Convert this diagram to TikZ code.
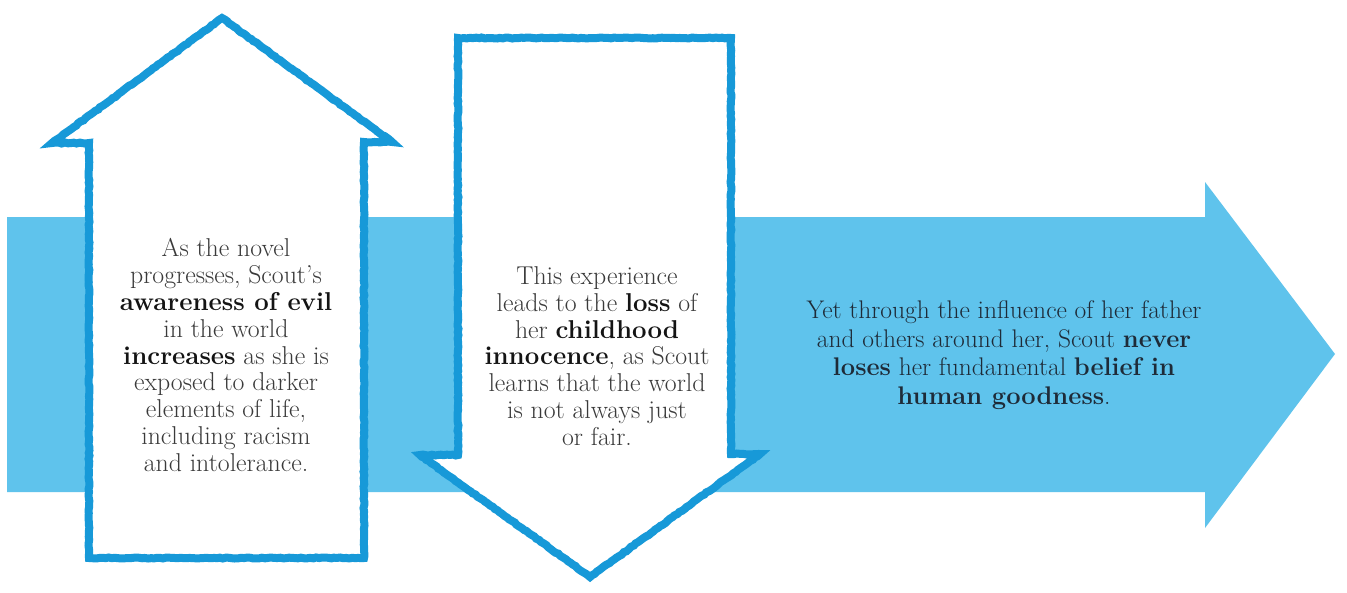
\documentclass[tikz,border=0pt]{standalone}
\usetikzlibrary{decorations.pathmorphing}
\definecolor{bandblue}{HTML}{5FC3EC}
\definecolor{lineblue}{HTML}{1799D8}
\definecolor{txtgray}{HTML}{3A3A3A}
\definecolor{txtdark}{HTML}{141414}
\definecolor{txtnavy}{HTML}{1E2B38}
\tikzset{
  band/.style={fill=bandblue, draw=none},
  sketch/.style={draw=lineblue, fill=white, line width=8pt, line join=miter, miter limit=4,
    decorate, decoration={random steps, segment length=3pt, amplitude=0.5pt}},
  txt/.style={align=center, text=txtgray, font=\fontsize{25.8}{26.8}\selectfont, inner sep=0pt},
}
\newcommand{\bw}[1]{\textbf{\color{txtdark}#1}}
\begin{document}
\begin{tikzpicture}[x=1pt,y=-1pt]
\pgfmathsetseed{7}
\useasboundingbox (0,0) rectangle (1347,592);
\fill[white] (0,0) rectangle (1347,592);
% big horizontal arrow
\path[band] (7,217) -- (1205,217) -- (1205,182) -- (1335,354) -- (1205,528) -- (1205,492) -- (7,492) -- cycle;
% up arrow
\path[sketch] (89,558) -- (89,143) -- (52,143) -- (222,18) -- (392,142) -- (364,142) -- (364,558) -- cycle;
% down arrow
\path[sketch] (458,38) -- (731,38) -- (731,454) -- (760,454) -- (590,577) -- (420,455) -- (458,455) -- cycle;
% texts
\node[txt] (t1) at (226,355) {As the novel\\progresses, Scout's\\\bw{awareness of evil}\\in the world\\\bw{increases} as she is\\exposed to darker\\elements of life,\\including racism\\and intolerance.};
\node[txt] (t2) at (597,356) {This experience\\leads to the \bw{loss} of\\her \bw{childhood}\\\bw{innocence}, as Scout\\learns that the world\\is not always just\\or fair.};
\node[txt, text=txtnavy, font=\fontsize{25.5}{28.7}\selectfont] (t3) at (1004,355) {Yet through the influence of her father\\and others around her, Scout \textbf{never}\\\textbf{loses} her fundamental \textbf{belief in}\\\textbf{human goodness}.};
\end{tikzpicture}
\end{document}
